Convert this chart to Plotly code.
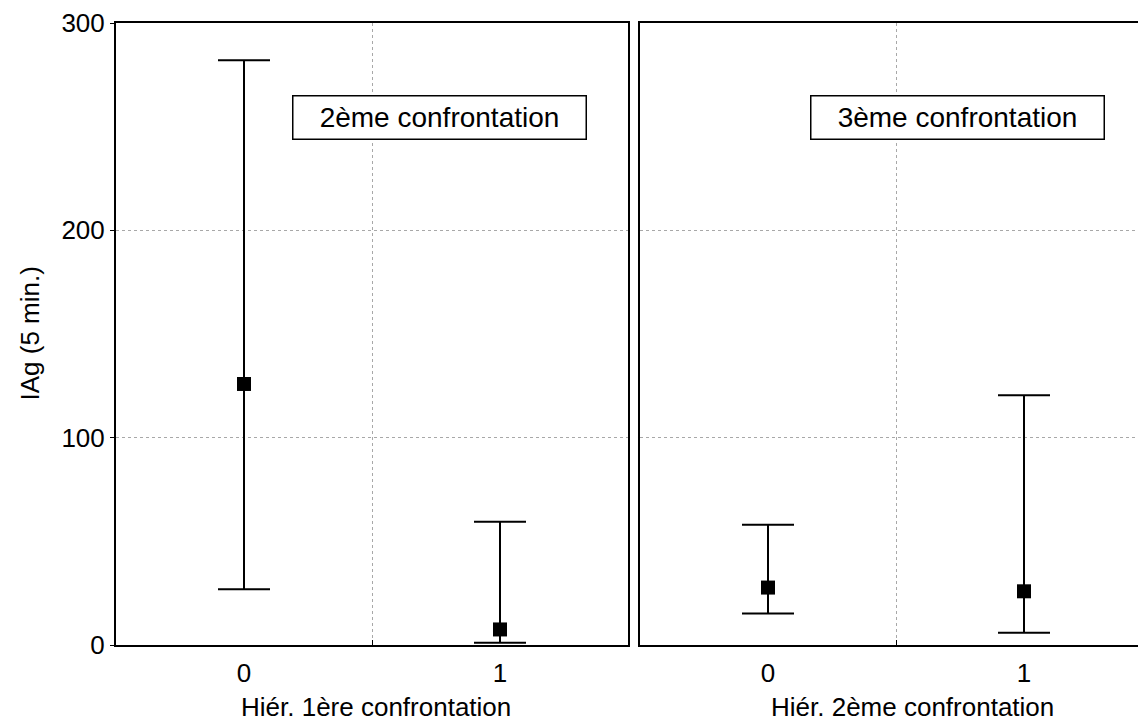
import plotly.graph_objects as go

# ---- data ----
groups = [0, 1]
group_labels = ["0", "1"]

mean_2 = [125.9, 7.5]
upper_2 = [282.0, 59.5]
lower_2 = [26.9, 1.1]

mean_3 = [27.7, 25.9]
upper_3 = [58.0, 120.5]
lower_3 = [15.2, 5.9]

panel_titles = ["2ème confrontation", "3ème confrontation"]
x_titles = ["Hiér. 1ère confrontation", "Hiér. 2ème confrontation"]
y_title = "IAg (5 min.)"
y_ticks = [0, 100, 200, 300]

FONT = "Arial, Liberation Sans, sans-serif"
OFF = 8  # default page body margin
W, H = 1146 - OFF, 724 - OFF
# plot area in window pixels: left 116, top 20, bottom 645
L, R, T, B = 116 - OFF, 0, 20 - OFF, 724 - 645
PW = W - L - R
PH = H - T - B


def px_x(p):
    return (p - OFF - L) / PW


def px_y(p):
    return (H - B - (p - OFF)) / PH


fig = go.Figure()


def add_panel(means, ups, lows, xa, ya):
    fig.add_trace(go.Scatter(
        x=groups, y=means, mode="markers", xaxis=xa, yaxis=ya,
        marker=dict(symbol="square", size=14, color="black", line=dict(width=0)),
        error_y=dict(type="data", symmetric=False,
                     array=[u - m for u, m in zip(ups, means)],
                     arrayminus=[m - l for m, l in zip(means, lows)],
                     color="black", thickness=2, width=26),
        showlegend=False, hoverinfo="skip",
    ))


add_panel(mean_2, upper_2, lower_2, "x", "y")
add_panel(mean_3, upper_3, lower_3, "x2", "y2")

grid = dict(showgrid=True, gridcolor="#a8a8a8", gridwidth=1, griddash="dot")
axis_common = dict(showline=True, linecolor="black", linewidth=2, zeroline=False,
                   ticklabeloverflow="allow",
                   tickfont=dict(family=FONT, size=26, color="black"))

xminor = dict(tickmode="array", tickvals=[0.5], ticks="inside", ticklen=5,
              tickcolor="black", tickwidth=1, showgrid=True,
              gridcolor="#a8a8a8", gridwidth=1, griddash="dot")

x2_end = 1.5 - (1152 - 1146) / 256

fig.update_layout(
    width=W, height=H,
    margin=dict(l=L, r=R, t=T, b=B),
    paper_bgcolor="white", plot_bgcolor="white",
    font=dict(family=FONT, size=26, color="black"),
    xaxis=dict(domain=[0, px_x(628)], range=[-0.5, 1.5], anchor="y",
               tickmode="array", tickvals=groups, ticktext=group_labels,
               ticks="", ticklabelstandoff=4, showgrid=False, mirror=True,
               minor=xminor, **axis_common),
    yaxis=dict(domain=[0, 1], range=[0, 300], anchor="x",
               tickmode="array", tickvals=y_ticks,
               ticks="outside", ticklen=4, tickwidth=1, tickcolor="black",
               mirror=True, **grid, **axis_common),
    xaxis2=dict(domain=[px_x(640), 1], range=[-0.5, x2_end], anchor="y2",
                tickmode="array", tickvals=groups, ticktext=group_labels,
                ticks="", ticklabelstandoff=4, showgrid=False, mirror=True,
                minor=xminor, **axis_common),
    yaxis2=dict(domain=[0, 1], range=[0, 300], anchor="x2",
                tickmode="array", tickvals=y_ticks, showticklabels=False,
                ticks="", mirror=False, **grid, **axis_common),
)

box_common = dict(xref="paper", yref="paper", xanchor="center", yanchor="middle",
                  showarrow=False, bordercolor="black", borderwidth=1.5,
                  borderpad=0, bgcolor="white", width=292, height=42,
                  font=dict(family=FONT, size=28, color="black"))
fig.add_annotation(text=panel_titles[0], x=px_x(439), y=px_y(115), **box_common)
fig.add_annotation(text=panel_titles[1], x=px_x(957), y=px_y(115), **box_common)

title_common = dict(xref="paper", yref="paper", showarrow=False,
                    xanchor="center", borderpad=0,
                    font=dict(family=FONT, size=26, color="black"))
fig.add_annotation(text=x_titles[0], x=px_x(376), y=px_y(723), yanchor="bottom", **title_common)
fig.add_annotation(text=x_titles[1], x=px_x(912), y=px_y(723), yanchor="bottom", **title_common)
fig.add_annotation(text=y_title, x=px_x(30), y=px_y(332), yanchor="middle",
                   textangle=-90, **title_common)

fig.write_html("out.html")
